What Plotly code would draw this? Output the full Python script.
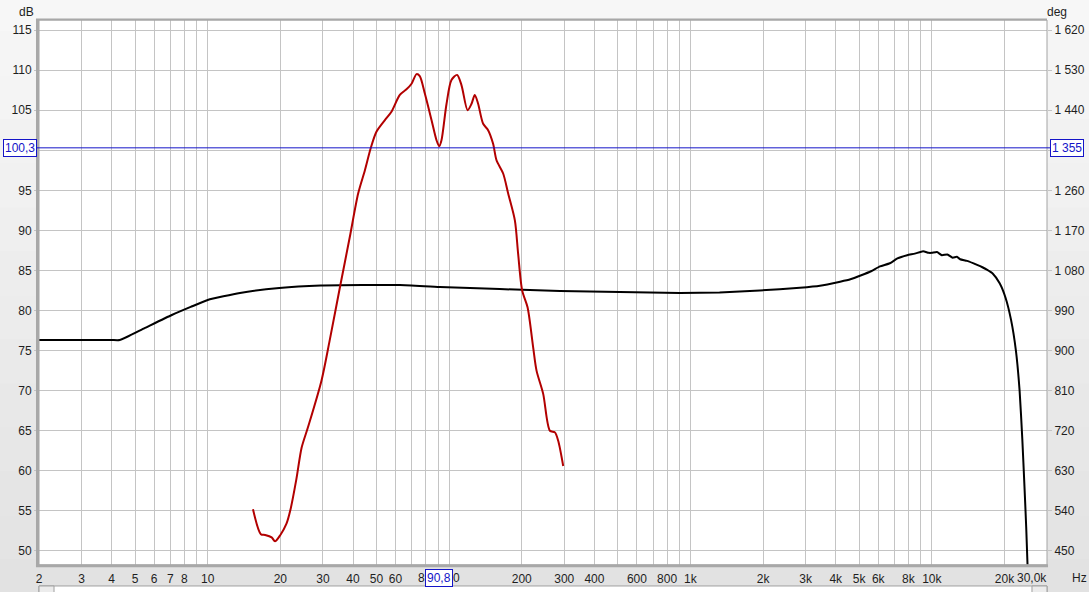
import plotly.graph_objects as go
import math

# ---------------- data ----------------
black_freq = [2, 3, 4, 4.32, 5.5, 7.1, 8.5, 10.0, 13.6, 19.8, 29.4, 43.7, 62.5, 91.5, 162, 288,
              510, 904, 1320, 1940, 2840, 3440, 4170, 4600, 5100, 5600, 6100, 6700, 7200, 7900, 8500,
              9200, 9700, 10000, 10500, 11000, 11600, 12200, 12700, 13100, 14000, 15400, 16200, 16900,
              17900, 19100, 20200, 21300, 22300, 23100, 23700, 24200, 24600, 25000]
black_db = [76.32, 76.32, 76.32, 76.32, 77.84, 79.44, 80.45, 81.31, 82.19, 82.81, 83.12,
            83.18, 83.18, 82.93, 82.68, 82.44, 82.31, 82.19, 82.25, 82.5, 82.85, 83.1, 83.6, 83.9,
            84.4, 84.9, 85.5, 85.9, 86.5, 86.9, 87.1, 87.4, 87.2, 87.2, 87.3, 86.9, 87.0, 86.6, 86.7,
            86.4, 86.2, 85.7, 85.4, 85.1, 84.6, 83.4, 81.6, 78.8, 75.0, 70.0, 64.0, 58.0, 53.0, 47.0]

red_freq = [15.4, 16.6, 17.3, 18.4, 19.0, 20.0, 21.2, 22.0, 23.3, 24.5, 26.0, 29.6, 32.0, 35.3, 38.8,
            42.0, 44.8, 47.4, 50.0, 54.2, 57.7, 62.5, 66.6, 69.9, 73.3, 75.6, 79.3, 84.6, 88.7, 91.0,
            93.0, 97.6, 102.3, 108.0, 112.6, 119.3, 123.9, 127.8, 131.9, 138.4, 145.1, 152.2, 157.2,
            167.5, 175.7, 187.3, 193.2, 200.8, 211.4, 223.0, 230.3, 245.4, 261.6, 274.4, 283.2, 297.0]
red_db = [55.2, 52.1, 52.0, 51.7, 51.2, 52.0, 53.4, 55.1, 58.96, 62.9, 65.4, 71.25, 76.25, 82.9, 89.2,
          94.6, 97.5, 100.3, 102.3, 103.75, 104.8, 106.9, 107.6, 108.3, 109.5, 109.25, 107.1, 103.75,
          101.25, 100.5, 101.25, 105.8, 108.75, 109.4, 108.1, 105.0, 105.8, 106.9, 105.8, 103.3,
          102.5, 100.8, 98.75, 97.1, 94.6, 91.25, 87.1, 82.5, 80.4, 75.4, 72.5, 69.6, 65.0, 64.8,
          63.75, 60.6]

x_grid = [2, 3, 4, 5, 6, 7, 8, 9, 10, 20, 30, 40, 50, 60, 70, 80, 90, 100, 200, 300, 400, 500, 600,
          700, 800, 900, 1000, 2000, 3000, 4000, 5000, 6000, 7000, 8000, 9000, 10000, 20000, 30000]
# labels at 80 / 100 are partly hidden by the cursor box; their visible parts are drawn separately
x_text = ["2", "3", "4", "5", "6", "7", "8", "", "10", "20", "30", "40", "50", "60", "", "", "",
          "", "200", "300", "400", "", "600", "", "800", "", "1k", "2k", "3k", "4k", "5k", "6k", "",
          "8k", "", "10k", "20k", ""]
y_left_vals = [50, 55, 60, 65, 70, 75, 80, 85, 90, 95, 100, 105, 110, 115]
y_left_text = ["50", "55", "60", "65", "70", "75", "80", "85", "90", "95", "", "105", "110", "115"]
y_right_vals = [450, 540, 630, 720, 810, 900, 990, 1080, 1170, 1260, 1350, 1440, 1530, 1620]
y_right_text = ["450", "540", "630", "720", "810", "900", "990", "1 080", "1 170", "1 260",
                "", "1 440", "1 530", "1 620"]
cursor_freq = 90.8
cursor_db = 100.3
cursor_freq_label = "90,8"
cursor_db_label = "100,3"
cursor_deg_label = "1 355"

# ---------------- figure ----------------
DB_RANGE = [48.25, 116.25]
DEG_RANGE = [450 + (DB_RANGE[0] - 50) * 18, 450 + (DB_RANGE[1] - 50) * 18]
FONT = "Liberation Sans, Arial, sans-serif"
BLUE = "#1414c8"
GRID = "#c4c4c4"
TXT = "#1e1e1e"
PW = 1008.0   # plot width px
PH = 545.0    # plot height px
LBL_Y = -13.0 / PH

fig = go.Figure()
fig.add_trace(go.Scatter(x=black_freq, y=black_db, mode="lines",
                         line=dict(color="#000000", width=2, shape="spline", smoothing=0.5),
                         hoverinfo="skip", showlegend=False))
fig.add_trace(go.Scatter(x=red_freq, y=red_db, mode="lines",
                         line=dict(color="#b20000", width=2, shape="spline", smoothing=0.8),
                         hoverinfo="skip", showlegend=False))
fig.add_trace(go.Scatter(x=[2], y=[450], yaxis="y2", mode="markers", marker=dict(opacity=0),
                         hoverinfo="skip", showlegend=False))

shapes = []
# background gradient bands
n = 14
top_c, bot_c = 247, 226
for i in range(n):
    c = round(top_c + (bot_c - top_c) * i / (n - 1))
    y1 = 1.06 - i * (1.13 / n)
    y0 = y1 - 1.13 / n - 0.002
    shapes.append(dict(type="rect", xref="paper", yref="paper", x0=-0.06, x1=1.06, y0=y0, y1=y1,
                       fillcolor=f"rgb({c},{c},{c})", line=dict(width=0), layer="below"))
# plot area
shapes.append(dict(type="rect", xref="paper", yref="paper", x0=0, x1=1, y0=0, y1=1,
                   fillcolor="white", line=dict(width=0), layer="below"))
# frame
shapes.append(dict(type="rect", xref="paper", yref="paper", x0=0, x1=1, y0=0, y1=1,
                   line=dict(color="#a4a4a4", width=1), layer="above"))
shapes.append(dict(type="line", xref="paper", yref="paper", x0=-0.0015, x1=-0.0015, y0=-0.003, y1=1.002,
                   line=dict(color="#a8a8a8", width=3), layer="above"))
shapes.append(dict(type="line", xref="paper", yref="paper", x0=-0.003, x1=1.0, y0=1.001, y1=1.001,
                   line=dict(color="#a8a8a8", width=2), layer="above"))
shapes.append(dict(type="line", xref="paper", yref="paper", x0=-0.003, x1=1.001, y0=-0.0015, y1=-0.0015,
                   line=dict(color="#a8a8a8", width=3), layer="above"))
# scrollbar
shapes.append(dict(type="rect", xref="paper", yref="paper", x0=0, x1=1, y0=-0.07, y1=-0.0385,
                   fillcolor="white", line=dict(color="#a0a0a0", width=1), layer="above"))
shapes.append(dict(type="rect", xref="paper", yref="paper", x0=0, x1=0.0149, y0=-0.07, y1=-0.0385,
                   fillcolor="#ececec", line=dict(color="#a0a0a0", width=1), layer="above"))
shapes.append(dict(type="rect", xref="paper", yref="paper", x0=1 - 0.0149, x1=1, y0=-0.07, y1=-0.0385,
                   fillcolor="#ececec", line=dict(color="#a0a0a0", width=1), layer="above"))
# cursors
shapes.append(dict(type="line", xref="x", yref="paper", x0=math.log10(cursor_freq), x1=math.log10(cursor_freq),
                   y0=-0.01, y1=1, line=dict(color=BLUE, width=1), layer="above"))
shapes.append(dict(type="line", xref="paper", yref="y", x0=-0.003, x1=1.004, y0=cursor_db, y1=cursor_db,
                   line=dict(color=BLUE, width=1), layer="above"))

cx = math.log10(cursor_freq)
annotations = [
    dict(text="dB", xref="paper", yref="paper", x=-12.5 / PW, y=1 + 8 / PH, xanchor="center",
         yanchor="middle", showarrow=False, font=dict(family=FONT, size=12, color=TXT)),
    dict(text="deg", xref="paper", yref="paper", x=1 + 10 / PW, y=1 + 8 / PH, xanchor="center",
         yanchor="middle", showarrow=False, font=dict(family=FONT, size=12, color=TXT)),
    dict(text="30,0k", xref="paper", yref="paper", x=1.001, y=LBL_Y, xanchor="right", yanchor="middle",
         showarrow=False, borderpad=0, font=dict(family=FONT, size=12, color=TXT)),
    dict(text="Hz", xref="paper", yref="paper", x=1 + 24 / PW, y=LBL_Y, xanchor="left", yanchor="middle",
         showarrow=False, borderpad=0, font=dict(family=FONT, size=12, color=TXT)),
    dict(text="8", xref="x", yref="paper", x=cx, xshift=-13, y=LBL_Y, xanchor="right", yanchor="middle",
         showarrow=False, borderpad=0, font=dict(family=FONT, size=12, color=TXT)),
    dict(text="0", xref="x", yref="paper", x=cx, xshift=13, y=LBL_Y, xanchor="left", yanchor="middle",
         showarrow=False, borderpad=0, font=dict(family=FONT, size=12, color=TXT)),
    dict(text=cursor_db_label, xref="paper", yref="y", x=-0.002, y=cursor_db, xanchor="right",
         yanchor="middle", showarrow=False, bgcolor="white", bordercolor=BLUE, borderwidth=1,
         borderpad=1, font=dict(family=FONT, size=12, color=BLUE)),
    dict(text=cursor_deg_label, xref="paper", yref="y", x=1.003, y=cursor_db, xanchor="left",
         yanchor="middle", showarrow=False, bgcolor="white", bordercolor=BLUE, borderwidth=1,
         borderpad=1, font=dict(family=FONT, size=12, color=BLUE)),
    dict(text=cursor_freq_label, xref="x", yref="paper", x=cx, y=LBL_Y, xanchor="center",
         yanchor="middle", showarrow=False, bgcolor="white", bordercolor=BLUE, borderwidth=1,
         borderpad=1, font=dict(family=FONT, size=12, color=BLUE)),
]

fig.update_layout(
    width=1089, height=592,
    margin=dict(l=39, r=42, t=20, b=27, autoexpand=False),
    paper_bgcolor="#ececec",
    plot_bgcolor="white",
    font=dict(family=FONT, size=12, color=TXT),
    shapes=shapes,
    annotations=annotations,
    xaxis=dict(type="log", range=[math.log10(2), math.log10(30000)], tickvals=x_grid, ticktext=x_text,
               showgrid=True, gridcolor=GRID, gridwidth=1, zeroline=False, ticks="", showline=False,
               ticklabelstandoff=5, automargin=False,
               tickfont=dict(family=FONT, size=12, color=TXT)),
    yaxis=dict(range=DB_RANGE, tickvals=y_left_vals, ticktext=y_left_text,
               showgrid=True, gridcolor=GRID, gridwidth=1, zeroline=False, ticks="outside",
               ticklen=4, tickcolor=GRID, showline=False, automargin=False,
               tickfont=dict(family=FONT, size=12, color=TXT)),
    yaxis2=dict(range=DEG_RANGE, overlaying="y", side="right", tickvals=y_right_vals,
                ticktext=y_right_text, showgrid=False, zeroline=False, ticks="outside", ticklen=4,
                tickcolor=GRID, showline=False, automargin=False,
                tickfont=dict(family=FONT, size=12, color=TXT)),
)

fig.write_html("out.html", config={"displayModeBar": False},
               post_script="document.body.style.margin='0';document.body.style.padding='0';"
                           "document.body.style.overflow='hidden';")
